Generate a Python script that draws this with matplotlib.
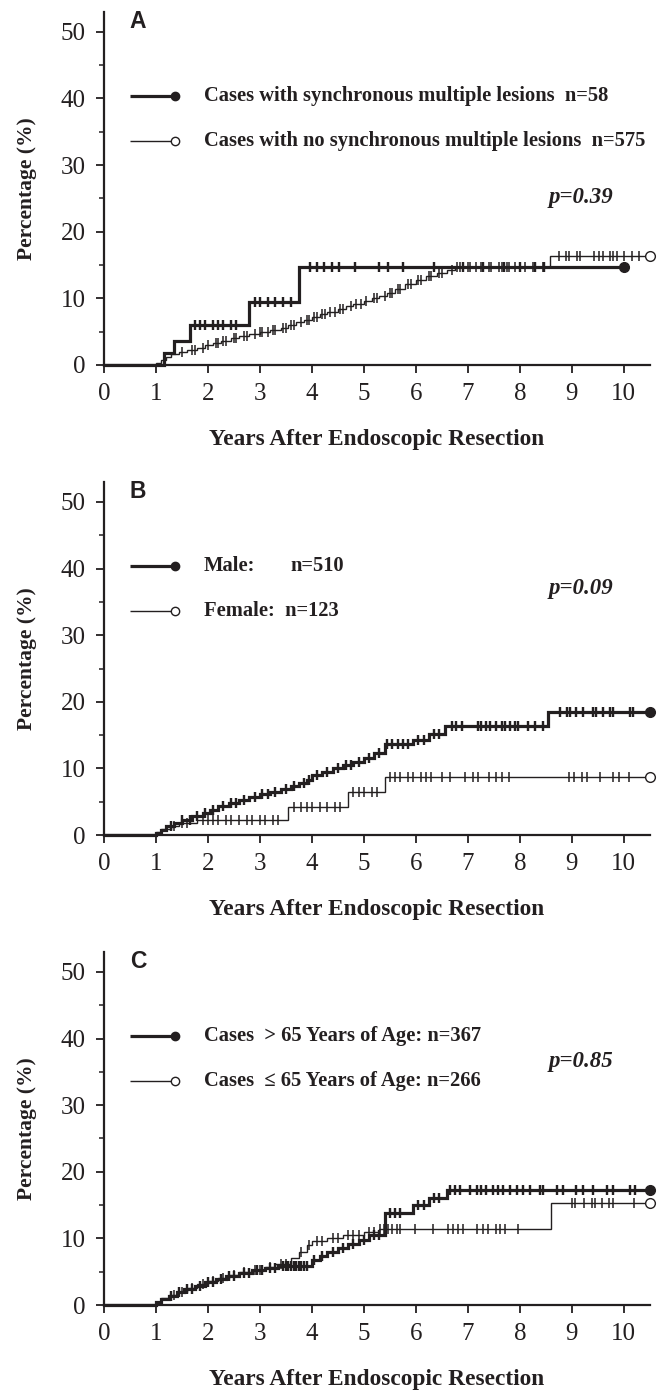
import numpy as np
import matplotlib
matplotlib.use('Agg')
import matplotlib.pyplot as plt

INK = '#231f20'
SERIF = ['Liberation Serif', 'DejaVu Serif']
SANS = ['Liberation Sans', 'DejaVu Sans']

# ---------------- data ----------------
panel_letters = ['A', 'B', 'C']
p_values = ['p=0.39', 'p=0.09', 'p=0.85']
x_ticks = [0, 1, 2, 3, 4, 5, 6, 7, 8, 9, 10]
y_ticks = [0, 10, 20, 30, 40, 50]
x_label = 'Years After Endoscopic Resection'
y_label = 'Percentage (%)'

# Panel A
a_thick_label = 'Cases with synchronous multiple lesions  n=58'
a_thick_t = [1.15, 1.35, 1.65, 2.8, 3.75]
a_thick_v = [1.8, 3.6, 6.0, 9.5, 14.7]
a_thick_end = 10.0
a_thick_cens = [1.75, 1.85, 1.95, 2.1, 2.2, 2.3, 2.45, 2.55, 2.9, 3.0, 3.15, 3.3,
                3.45, 3.6, 3.96, 4.1, 4.23, 4.38, 4.52, 4.84, 5.29, 5.46, 5.75,
                6.35, 6.9, 7.3, 7.7, 8.0, 8.3, 8.46]

a_thin_label = 'Cases with no synchronous multiple lesions  n=575'
a_thin_t = [1.0, 1.1, 1.2, 1.3, 1.45, 1.6, 1.8, 1.95, 2.1, 2.25, 2.45, 2.6, 2.8,
            3.0, 3.2, 3.4, 3.55, 3.7, 3.85, 4.0, 4.15, 4.3, 4.5, 4.65, 4.8, 5.0,
            5.15, 5.3, 5.45, 5.6, 5.8, 6.0, 6.2, 6.4, 6.6, 6.75, 8.58]
a_thin_v = [0.3, 0.8, 1.2, 1.6, 2.0, 2.3, 2.6, 3.0, 3.3, 3.6, 4.0, 4.4, 4.7,
            5.0, 5.3, 5.6, 6.0, 6.4, 6.8, 7.2, 7.6, 8.0, 8.4, 8.8, 9.2, 9.6,
            10.0, 10.4, 10.8, 11.4, 12.2, 12.8, 13.3, 13.8, 14.3, 14.7, 16.4]
a_thin_end = 10.5
a_thin_cens = [1.5, 1.7, 1.75, 1.9, 2.0, 2.15, 2.2, 2.3, 2.35, 2.5, 2.55, 2.7,
               2.75, 2.9, 3.0, 3.05, 3.15, 3.25, 3.3, 3.45, 3.5, 3.6, 3.65, 3.8,
               3.9, 3.95, 4.05, 4.1, 4.2, 4.25, 4.35, 4.45, 4.55, 4.6, 4.75, 4.85,
               4.95, 5.05, 5.2, 5.25, 5.4, 5.5, 5.55, 5.65, 5.7, 5.85, 5.9, 6.05,
               6.1, 6.25, 6.3, 6.45, 6.5, 6.7, 6.8, 6.85, 6.9, 7.0, 7.05, 7.15,
               7.25, 7.3, 7.4, 7.45, 7.6, 7.65, 7.75, 7.8, 7.9, 8.0, 8.1, 8.25,
               8.45, 8.75, 8.89, 8.95, 9.1, 9.15, 9.42, 9.52, 9.6, 9.73, 9.8,
               9.87, 10.01, 10.16, 10.3]

# Panel B
b_thick_label = 'Male:'
b_thick_n = 'n=510'
b_thick_t = [1.0, 1.1, 1.2, 1.35, 1.5, 1.7, 1.9, 2.05, 2.2, 2.4, 2.6, 2.8, 3.0,
             3.2, 3.4, 3.6, 3.75, 3.9, 4.0, 4.2, 4.4, 4.6, 4.8, 5.0, 5.2, 5.4,
             5.95, 6.25, 6.57, 8.55]
b_thick_v = [0.3, 0.8, 1.3, 1.8, 2.3, 2.8, 3.3, 3.8, 4.3, 4.8, 5.3, 5.7, 6.1,
             6.5, 6.9, 7.3, 7.8, 8.3, 9.0, 9.5, 10.0, 10.5, 11.0, 11.5, 12.3,
             13.7, 14.3, 15.2, 16.3, 18.5]
b_thick_end = 10.5
b_thick_cens = [1.3, 1.5, 1.65, 1.8, 1.95, 2.1, 2.3, 2.45, 2.55, 2.7, 2.9, 3.05,
                3.15, 3.3, 3.5, 3.65, 3.85, 3.95, 4.1, 4.3, 4.5, 4.65, 4.75, 4.9,
                5.1, 5.3, 5.44, 5.55, 5.65, 5.75, 5.85, 6.05, 6.15, 6.35, 6.45,
                6.69, 6.78, 6.88, 7.2, 7.26, 7.36, 7.42, 7.55, 7.65, 7.71, 7.81,
                7.9, 7.97, 8.16, 8.29, 8.45, 8.77, 8.9, 8.96, 9.09, 9.22, 9.41,
                9.47, 9.6, 9.73, 9.79, 10.12, 10.18]

b_thin_label = 'Female:  n=123'
b_thin_t = [1.0, 1.1, 1.3, 1.45, 1.8, 3.55, 4.7, 5.4]
b_thin_v = [0.4, 0.9, 1.4, 1.8, 2.3, 4.2, 6.5, 8.7]
b_thin_end = 10.5
b_thin_cens = [1.35, 1.5, 1.6, 1.9, 2.0, 2.1, 2.2, 2.35, 2.45, 2.6, 2.75, 2.85,
               3.0, 3.1, 3.25, 3.35, 3.65, 3.8, 3.9, 4.0, 4.15, 4.3, 4.45, 4.55,
               4.8, 4.9, 5.0, 5.15, 5.25, 5.5, 5.6, 5.7, 5.85, 5.95, 6.1, 6.2,
               6.3, 6.5, 6.65, 6.95, 7.1, 7.2, 7.4, 7.55, 7.65, 7.8, 8.95, 9.05,
               9.2, 9.3, 9.55, 9.8, 9.9, 10.1]

# Panel C
c_thick_label = 'Cases  > 65 Years of Age: n=367'
c_thick_t = [1.0, 1.1, 1.25, 1.4, 1.55, 1.75, 1.95, 2.15, 2.35, 2.6, 2.85, 3.1,
             3.35, 4.0, 4.15, 4.3, 4.5, 4.7, 4.9, 5.1, 5.4, 5.95, 6.25, 6.6]
c_thick_v = [0.4, 0.9, 1.4, 1.9, 2.4, 2.9, 3.4, 3.9, 4.3, 4.8, 5.2, 5.5, 5.8,
             6.8, 7.4, 8.0, 8.6, 9.2, 9.8, 10.5, 13.8, 15.0, 16.0, 17.2]
c_thick_end = 10.5
c_thick_cens = [1.3, 1.45, 1.6, 1.7, 1.85, 2.0, 2.1, 2.25, 2.4, 2.5, 2.7, 2.8,
                2.95, 3.05, 3.2, 3.3, 3.45, 3.5, 3.55, 3.6, 3.65, 3.7, 3.75, 3.8,
                3.85, 3.9, 4.05, 4.2, 4.4, 4.6, 4.8, 5.0, 5.2, 5.3, 5.5, 5.6,
                5.7, 6.05, 6.15, 6.35, 6.45, 6.65, 6.75, 6.85, 7.04, 7.17, 7.26,
                7.36, 7.49, 7.58, 7.68, 7.81, 7.94, 8.06, 8.19, 8.38, 8.45, 8.71,
                8.83, 9.09, 9.22, 9.41, 9.67, 9.79, 10.12, 10.21]

c_thin_label = 'Cases  \u2264 65 Years of Age: n=266'
c_thin_t = [1.0, 1.1, 1.25, 1.4, 1.6, 1.8, 2.0, 2.2, 2.4, 2.6, 2.85, 3.1, 3.3,
            3.6, 3.75, 3.9, 4.0, 4.3, 4.6, 5.0, 5.3, 8.6]
c_thin_v = [0.5, 1.0, 1.5, 2.0, 2.6, 3.1, 3.6, 4.0, 4.5, 4.9, 5.3, 5.7, 6.2,
            7.0, 8.0, 9.0, 9.6, 10.0, 10.5, 11.0, 11.4, 15.3]
c_thin_end = 10.5
c_thin_cens = [1.35, 1.5, 1.7, 1.9, 2.1, 2.3, 2.5, 2.7, 2.9, 3.0, 3.2, 3.4, 3.5,
               3.8, 3.95, 4.1, 4.2, 4.4, 4.5, 4.7, 4.8, 4.9, 5.1, 5.2, 5.31,
               5.39, 5.47, 5.55, 5.63, 5.69, 5.98, 6.33, 6.62, 6.72, 6.81, 6.91,
               7.17, 7.29, 7.39, 7.55, 7.62, 7.71, 7.97, 9.0, 9.07, 9.23, 9.39,
               9.45, 9.58, 9.71, 9.8, 10.19]

panels = [
    dict(thick=(a_thick_t, a_thick_v, a_thick_end, a_thick_cens),
         thin=(a_thin_t, a_thin_v, a_thin_end, a_thin_cens),
         labels=(a_thick_label, a_thin_label), extra=None, p_y=25.2),
    dict(thick=(b_thick_t, b_thick_v, b_thick_end, b_thick_cens),
         thin=(b_thin_t, b_thin_v, b_thin_end, b_thin_cens),
         labels=(b_thick_label, b_thin_label), extra=b_thick_n, p_y=37.0),
    dict(thick=(c_thick_t, c_thick_v, c_thick_end, c_thick_cens),
         thin=(c_thin_t, c_thin_v, c_thin_end, c_thin_cens),
         labels=(c_thick_label, c_thin_label), extra=None, p_y=36.5),
]

# ---------------- drawing ----------------
fig = plt.figure(figsize=(6.61, 13.95), dpi=100)
left, width, height = 0.157, 0.826, 0.2531
bottoms = [0.7384, 0.4014, 0.0645]

LW_THICK, LW_THIN = 2.3, 1.0
LEG_FS = 14.8


def step_value(times, values, t):
    times = np.asarray(times)
    values = np.asarray(values)
    idx = np.searchsorted(times, t, side='right') - 1
    return np.where(idx >= 0, values[np.clip(idx, 0, None)], 0.0)


def draw_curve(ax, data, lw, filled):
    times, values, end, cens = data
    xs = np.concatenate([[0.0], times, [end]])
    ys = np.concatenate([[0.0], values, [values[-1]]])
    ax.step(xs, ys, where='post', color=INK, lw=lw, clip_on=False,
            solid_joinstyle='miter', zorder=3)
    cens = np.asarray(cens)
    ax.plot(cens, step_value(times, values, cens), ls='none', marker='|',
            ms=7.5, mew=max(lw * 0.75, 1.1), color=INK, clip_on=False, zorder=3)
    ax.plot([end], [values[-1]], ls='none', marker='o', ms=7,
            mfc=INK if filled else 'white', mec=INK, mew=1.0,
            clip_on=False, zorder=4)


for i, (pan, b) in enumerate(zip(panels, bottoms)):
    ax = fig.add_axes([left, b, width, height])
    ax.set_xlim(0, 10.5)
    ax.set_ylim(0, 53)
    for s in ['top', 'right']:
        ax.spines[s].set_visible(False)
    for s in ['left', 'bottom']:
        ax.spines[s].set_linewidth(1.6)
        ax.spines[s].set_color(INK)
    ax.set_xticks(x_ticks)
    ax.set_yticks(y_ticks)
    ax.set_yticks([5, 15, 25, 35, 45], minor=True)
    ax.tick_params(axis='both', which='major', direction='out', length=6,
                   width=1.3, color=INK, labelcolor=INK, labelsize=18, pad=7)
    ax.tick_params(axis='y', which='minor', direction='out', length=3.5,
                   width=1.1, color=INK)
    for lab in ax.get_xticklabels() + ax.get_yticklabels():
        lab.set_fontfamily(SERIF)
    ax.set_xlabel(x_label, fontfamily=SERIF, fontweight='bold', fontsize=16.8,
                  color=INK, labelpad=17)
    ax.set_ylabel(y_label, fontfamily=SERIF, fontweight='bold', fontsize=15.5,
                  color=INK, labelpad=17)

    draw_curve(ax, pan['thin'], LW_THIN, False)
    draw_curve(ax, pan['thick'], LW_THICK, True)

    # panel letter
    ax.text(0.5, 51.5, panel_letters[i], fontfamily=SANS, fontweight='bold',
            fontsize=16.5, color=INK, ha='left', va='center')

    # legend
    for j, (yy, lw, filled) in enumerate([(40.4, LW_THICK, True),
                                          (33.6, LW_THIN, False)]):
        ax.plot([0.5, 1.37], [yy, yy], color=INK, lw=lw, solid_capstyle='butt',
                clip_on=False)
        ax.plot([1.37], [yy], ls='none', marker='o', ms=6,
                mfc=INK if filled else 'white', mec=INK, mew=1.0, clip_on=False)
        ax.text(1.92, yy, pan['labels'][j], fontfamily=SERIF, fontweight='bold',
                fontsize=LEG_FS, color=INK, ha='left', va='center')
    if pan['extra']:
        ax.text(3.58, 40.4, pan['extra'], fontfamily=SERIF, fontweight='bold',
                fontsize=LEG_FS, color=INK, ha='left', va='center')

    ax.text(9.17, pan['p_y'], p_values[i], fontfamily=SERIF, fontweight='bold',
            fontstyle='italic', fontsize=16.5, color=INK, ha='center',
            va='center')

fig.savefig('out.png', dpi=100)
